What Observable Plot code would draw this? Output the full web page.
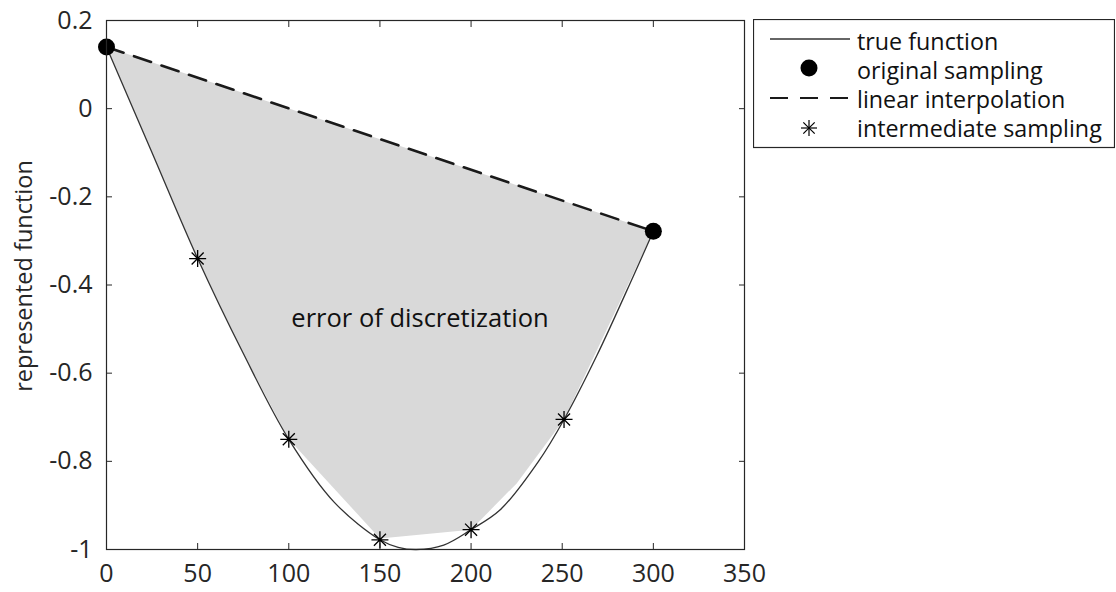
<!DOCTYPE html>
<html>
<head>
<meta charset="utf-8">
<script src="https://cdn.jsdelivr.net/npm/d3@7"></script>
<script src="https://cdn.jsdelivr.net/npm/@observablehq/plot@0.6"></script>
<style>
  html, body { margin: 0; padding: 0; background: #fff; }
  #wrap { position: relative; width: 1116px; height: 592px; font-family: "Open Sans", sans-serif; }
  #legend { position: absolute; left: 753px; top: 19px; }
  #wrap g[aria-label="x-axis tick label"], #wrap g[aria-label="y-axis tick label"] { font-size: 25px !important; }
  #wrap g[aria-label="x-axis tick label"] text, #wrap g[aria-label="y-axis tick label"] text { font-size: 25px !important; }
</style>
</head>
<body>
<div id="wrap"></div>
<script>
// ---- data ----
const trueX = [0, 25, 50, 75, 100, 125, 150, 160, 170, 185, 200, 216, 237, 251, 269, 289, 300];
const trueY = [0.14, -0.10, -0.34, -0.555, -0.75, -0.893, -0.978, -0.995, -1.0, -0.99, -0.955, -0.91, -0.80, -0.705, -0.56, -0.38, -0.278];

const origX = [0, 300];
const origY = [0.14, -0.278];

const interX = [50, 100, 150, 200, 251];
const interY = [-0.34, -0.75, -0.978, -0.955, -0.705];

// lower edge of the grey "error" region (the dashed line closes it)
const errX = [0, 50, 75, 100, 150, 200, 225, 251, 300];
const errY = [0.14, -0.34, -0.555, -0.75, -0.975, -0.955, -0.85, -0.705, -0.278];

const xTicks = [0, 50, 100, 150, 200, 250, 300, 350];
const yTicks = [0.2, 0, -0.2, -0.4, -0.6, -0.8, -1];
const yTickLabels = ["0.2", "0", "-0.2", "-0.4", "-0.6", "-0.8", "-1"];

const legendLabels = ["true function", "original sampling", "linear interpolation", "intermediate sampling"];
const annotation = {text: "error of discretization", x: 172, y: -0.476};
const yLabel = "represented function";

// ---- tables ----
const trueData = trueX.map((x, i) => ({x, y: trueY[i]}));
const origData = origX.map((x, i) => ({x, y: origY[i]}));
const interData = interX.map((x, i) => ({x, y: interY[i]}));
const errData = errX.map((x, i) => ({x, y: errY[i]}));

const ink = "#262626";

// MATLAB-like 8-armed asterisk
const star8 = {
  draw(ctx, size) {
    const r = Math.sqrt(size / Math.PI);
    for (const a of [0, 45, 90, 135]) {
      const t = a * Math.PI / 180, dx = r * Math.cos(t), dy = r * Math.sin(t);
      ctx.moveTo(-dx, -dy);
      ctx.lineTo(dx, dy);
    }
  }
};

const chart = Plot.plot({
  width: 1116,
  height: 592,
  marginLeft: 106,
  marginRight: 372,
  marginTop: 20,
  marginBottom: 43,
  style: {fontFamily: "'Open Sans', sans-serif", fontSize: "25px", color: ink, background: "#fff"},
  x: {domain: [0, 350], label: null},
  y: {domain: [-1, 0.2], label: null},
  marks: [
    Plot.line(errData, {x: "x", y: "y", fill: "#d9d9d9", stroke: "none", curve: "linear"}),
    Plot.line(trueData, {x: "x", y: "y", stroke: "#333", strokeWidth: 1.3, curve: "catmull-rom"}),
    Plot.line(origData, {x: "x", y: "y", stroke: "#1a1a1a", strokeWidth: 2.6, strokeDasharray: "18,11"}),
    Plot.dot(origData, {x: "x", y: "y", r: 8.5, fill: "#000", stroke: "none"}),
    Plot.dot(interData, {x: "x", y: "y", r: 8.5, symbol: star8, fill: "none", stroke: "#000", strokeWidth: 1.3}),
    Plot.text([annotation], {x: "x", y: "y", text: "text", fontSize: 25.5, fill: "#111"}),
    Plot.frame({stroke: ink, strokeWidth: 1.2}),
    Plot.axisX({ticks: xTicks, tickSize: -6, tickPadding: 21, fontSize: 25, stroke: ink, fill: ink, label: null}),
    Plot.axisX({anchor: "top", ticks: xTicks, tickSize: -6, tickFormat: () => "", stroke: ink, label: null}),
    Plot.axisY({ticks: yTicks, tickSize: -6, tickPadding: 20, fontSize: 25, stroke: ink, fill: ink, label: null,
      tickFormat: d => yTickLabels[yTicks.indexOf(d)] ?? ""}),
    Plot.axisY({anchor: "right", ticks: yTicks, tickSize: -6, tickFormat: () => "", stroke: ink, label: null}),
    Plot.text([yLabel], {frameAnchor: "left", rotate: -90, dx: -82, dy: -9, fontSize: 23.5, fill: ink, textAnchor: "middle"})
  ]
});

const wrap = document.getElementById("wrap");
wrap.appendChild(chart);

// ---- legend (drawn beside the SVG) ----
const ns = "http://www.w3.org/2000/svg";
const lg = document.createElementNS(ns, "svg");
lg.setAttribute("id", "legend");
lg.setAttribute("width", 362);
lg.setAttribute("height", 130);
lg.style.fontFamily = "'Open Sans', sans-serif";
const W = 361, H = 128;
lg.innerHTML = `
  <rect x="0.5" y="0.5" width="${W}" height="${H}" fill="#fff" stroke="${ink}" stroke-width="1.2"/>
  <line x1="17" x2="97" y1="20" y2="20" stroke="#333" stroke-width="1.3"/>
  <circle cx="56" cy="49" r="8.5" fill="#000"/>
  <line x1="17" x2="97" y1="79" y2="79" stroke="#1a1a1a" stroke-width="2.2" stroke-dasharray="18,12"/>
  <g stroke="#000" stroke-width="1.2" transform="translate(56,109)">
    <line x1="-8" x2="8" y1="0" y2="0"/><line x1="0" x2="0" y1="-8" y2="8"/>
    <line x1="-5.7" x2="5.7" y1="-5.7" y2="5.7"/><line x1="-5.7" x2="5.7" y1="5.7" y2="-5.7"/>
  </g>
`;
const baselines = [31, 60, 89, 118];
legendLabels.forEach((t, i) => {
  const tx = document.createElementNS(ns, "text");
  tx.setAttribute("x", 104);
  tx.setAttribute("y", baselines[i]);
  tx.setAttribute("font-size", 23.3);
  tx.setAttribute("fill", "#111");
  tx.textContent = t;
  lg.appendChild(tx);
});
wrap.appendChild(lg);
</script>
</body>
</html>
